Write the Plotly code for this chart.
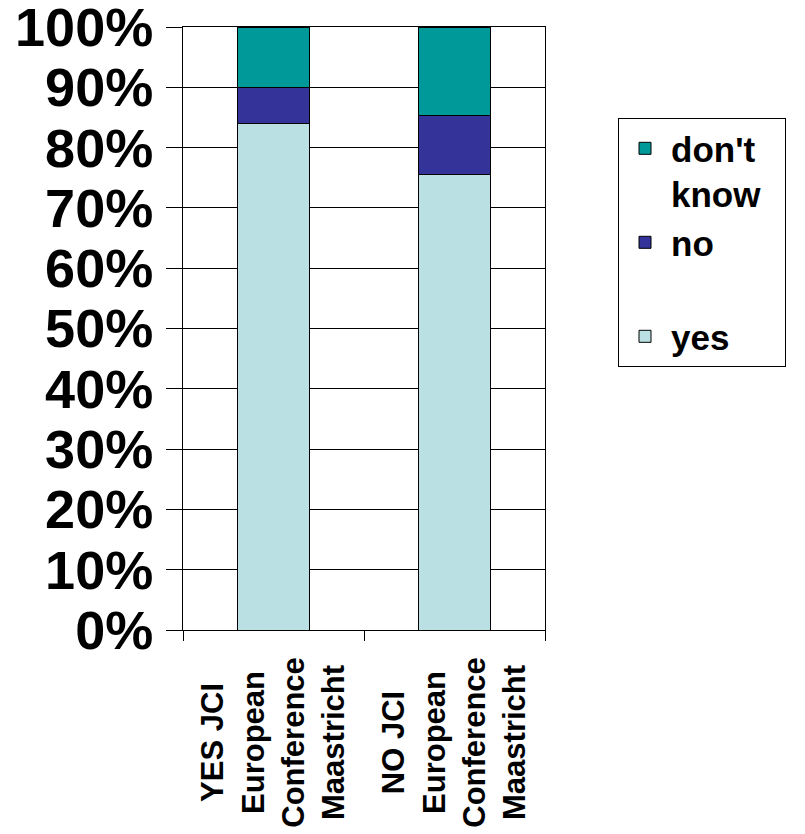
import plotly.graph_objects as go

# ---- data ----
categories = [
    "YES JCI<br>European<br>Conference<br>Maastricht",
    "NO JCI<br>European<br>Conference<br>Maastricht",
]
yes_vals = [84.0, 75.6]
no_vals = [6.0, 9.7]
dont_know_vals = [10.0, 14.7]
series_names = ["yes", "no<br>\u00a0", "don't<br>know"]
y_tick_vals = [0, 10, 20, 30, 40, 50, 60, 70, 80, 90, 100]
y_tick_text = [f"{v}%" for v in y_tick_vals]

# ---- styles ----
colors = ["#BBE0E3", "#333399", "#009999"]
FONT = "Liberation Sans, Arial, sans-serif"
LEGEND_PAD = "\u00a0\u00a0"  # widens the legend box to the reference's width

fig = go.Figure()
for name, vals, col in zip(series_names, [yes_vals, no_vals, dont_know_vals], colors):
    fig.add_trace(go.Bar(
        x=categories, y=vals, name=name + LEGEND_PAD,
        marker=dict(color=col, line=dict(color="black", width=1)),
    ))

for cat in categories:
    fig.add_annotation(
        x=cat, xref="x", y=-0.041, yref="paper",
        text=f"<b>{cat}</b>", textangle=-90, showarrow=False,
        xanchor="center", yanchor="top", align="center",
        font=dict(family=FONT, size=31, color="black"),
    )

# page body adds an 8px offset; margins compensate so the plot sits where the reference has it
fig.update_layout(
    width=805, height=834,
    margin=dict(l=175, r=268, t=19, b=212, autoexpand=False),
    paper_bgcolor="white", plot_bgcolor="white",
    barmode="stack", bargap=0.6,
    showlegend=True,
    legend=dict(
        x=1.2017, y=0.849, xanchor="left", yanchor="top",
        traceorder="reversed", valign="top",
        bordercolor="black", borderwidth=1, bgcolor="white",
        font=dict(family=FONT, size=35, color="black", weight="bold"),
        itemwidth=42, tracegroupgap=0,
    ),
    xaxis=dict(
        type="category", showticklabels=False, automargin=False,
        showline=True, linecolor="black", linewidth=1, mirror=True,
        ticks="outside", tickson="boundaries", ticklen=10, tickcolor="black",
        showgrid=False,
    ),
    yaxis=dict(
        range=[0, 100], tickvals=y_tick_vals, ticktext=y_tick_text,
        automargin=False, ticklabeloverflow="allow",
        showline=True, linecolor="black", linewidth=1, mirror=True,
        ticks="outside", ticklen=16, tickcolor="black",
        showgrid=True, gridcolor="black", gridwidth=1,
        tickfont=dict(family=FONT, size=54, color="black", weight="bold"),
        ticklabelstandoff=2,
        zeroline=False,
    ),
)

fig.write_html("out.html")
